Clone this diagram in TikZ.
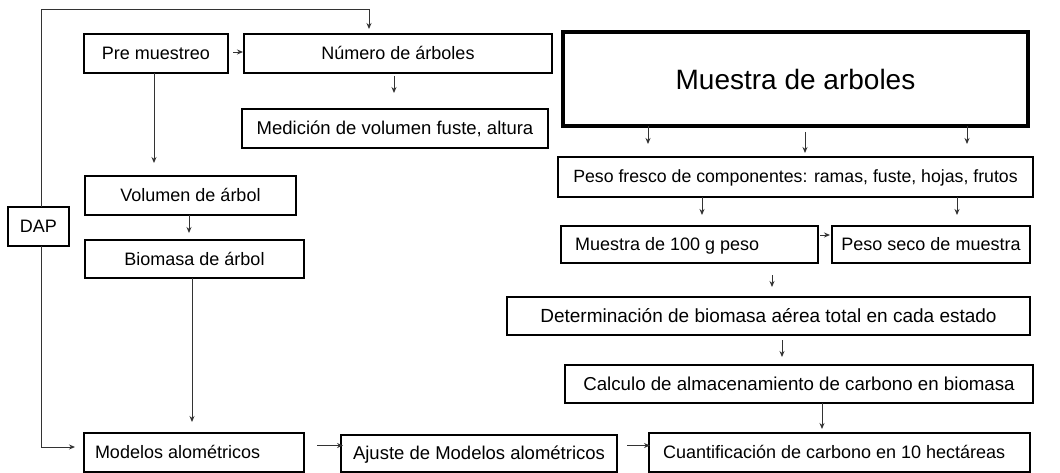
\documentclass[tikz,border=0pt]{standalone}
\usepackage{fontspec}
\setmainfont{Liberation Sans}
\usetikzlibrary{arrows.meta}
\newcommand\fsz[1]{\fontsize{#1}{#1}\selectfont}
\begin{document}
\begin{tikzpicture}[x=1pt,y=-1pt,
 box/.style={draw, line width=1.6pt, fill=white, inner sep=0pt, outer sep=0pt, font=\fsz{18}, minimum height=39pt, text height=13.5pt, text depth=1.5pt},
 conn/.style={line width=0.9pt, draw=black!80},
 arr/.style={conn, -{Stealth[length=6pt,width=5pt]}}]
\useasboundingbox (0,0) rectangle (1060,473);
\node[box, minimum width=144pt] (pre) at (156,53.5) {Pre muestreo};
\node[box, minimum width=308pt] (num) at (398,53.5) {Número de árboles};
\node[box, minimum width=306pt, font=\fsz{18.5}] (med) at (395,128.5) {Medición de volumen fuste, altura};
\node[box, line width=3.2pt, minimum width=465pt, minimum height=94pt, font=\fsz{28}, text height=22pt, text depth=0pt] (mue) at (795.5,79) {Muestra de arboles};
\node[box, minimum width=211pt] (vol) at (190.5,195.5) {Volumen de árbol};
\node[box, minimum width=219pt, minimum height=38pt] (bio) at (194.5,259) {Biomasa de árbol};
\node[box, minimum width=61pt] (dap) at (38.5,226.5) {DAP};
\node[box, inner xsep=11pt] (mod) at (194,452.5) {\makebox[198pt][l]{Modelos alométricos}};
\node[box, minimum width=276pt, minimum height=37pt, font=\fsz{18.5}] (aju) at (479,453.5) {Ajuste de Modelos alométricos};
\node[box, inner xsep=14pt] (cua) at (839.5,452.5) {\makebox[353pt][l]{Cuantificación de carbono en 10 hectáreas}};
\node[box, minimum width=475pt, minimum height=40pt, font=\fsz{17.7}] (pes) at (795.5,177) {Peso fresco de componentes: ramas, fuste, hojas, frutos};
\node[box, inner xsep=14pt, minimum height=37pt] (m100) at (689.5,244.5) {\makebox[229pt][l]{Muestra de 100 g peso}};
\node[box, minimum width=198pt, minimum height=37pt] (seco) at (931,244.5) {Peso seco de muestra};
\node[box, minimum width=523pt, minimum height=38pt, font=\fsz{19}] (det) at (768.5,316) {Determinación de biomasa aérea total en cada estado};
\node[box, minimum width=468pt, minimum height=38pt, font=\fsz{18.7}] (cal) at (799,384) {Calculo de almacenamiento de carbono en biomasa};
% DAP loop
\coordinate (tl) at (41,9);
\coordinate (bl) at (41,447);
\draw[arr] (tl |- dap.north) -- (tl) -| ([xshift=-29pt,yshift=5pt]num.north);
\draw[arr] (bl |- dap.south) |- ([xshift=-9pt,yshift=5.5pt]mod.west);
% left column
\draw[arr] ([xshift=5pt,yshift=1.5pt]pre.east) -- ([xshift=-1pt,yshift=1.5pt]num.west);
\draw[arr, shorten <=3pt, shorten >=16pt] ([xshift=-4pt]num.south) -- ([xshift=-1pt]med.north);
\draw[arr, shorten >=13pt] ([xshift=-2pt]pre.south) -- ([xshift=-2pt]pre.south |- vol.north);
\draw[arr, shorten >=7pt] ([xshift=-1.5pt]vol.south) -- ([xshift=-1.5pt]vol.south |- bio.north);
\draw[arr, shorten >=11pt] ([xshift=-2.5pt]bio.south) -- ([xshift=-2.5pt]bio.south |- mod.north);
% bottom row
\draw[arr, shorten >=11pt] ([xshift=13pt,yshift=7pt]mod.east) -- ([xshift=13pt,yshift=7pt]mod.east -| aju.west);
\draw[arr, shorten >=9pt] ([xshift=10pt,yshift=8pt]aju.east) -- ([xshift=10pt,yshift=8pt]aju.east -| cua.west);
% right column
\draw[arr, shorten >=13pt] ([xshift=-147.5pt]mue.south) -- ([xshift=-147.5pt]mue.south |- pes.north);
\draw[arr, shorten <=6pt, shorten >=4pt] ([xshift=9.5pt]mue.south) -- ([xshift=9.5pt]mue.south |- pes.north);
\draw[arr, shorten >=13pt] ([xshift=171.5pt]mue.south) -- ([xshift=171.5pt]mue.south |- pes.north);
\draw[arr, shorten >=11pt] ([xshift=-93.5pt]pes.south) -- ([xshift=-93.5pt]pes.south |- m100.north);
\draw[arr, shorten >=11pt] ([xshift=161.5pt]pes.south) -- ([xshift=161.5pt]pes.south |- seco.north);
\draw[arr, shorten <=2pt, shorten >=2pt] ([yshift=9.5pt]m100.east) -- ([yshift=9.5pt]m100.east -| seco.west);
\draw[arr, shorten <=12pt, shorten >=10pt] ([xshift=82.5pt]m100.south) -- ([xshift=82.5pt]m100.south |- det.north);
\draw[arr, shorten <=5pt, shorten >=8pt] ([xshift=13.5pt]det.south) -- ([xshift=13.5pt]det.south |- cal.north);
\draw[arr, shorten >=4pt] ([xshift=23pt]cal.south) -- ([xshift=23pt]cal.south |- cua.north);
\end{tikzpicture}
\end{document}
